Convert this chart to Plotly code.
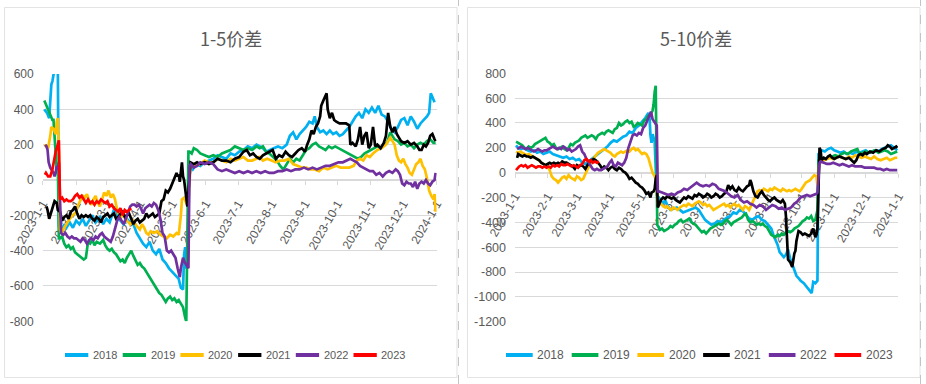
import plotly.graph_objects as go
from datetime import datetime, timedelta

# ---------------- data ----------------
YEARS = ["2018", "2019", "2020", "2021", "2022", "2023"]
COLORS = ["#00B0F0", "#00B050", "#FFC000", "#000000", "#7030A0", "#FF0000"]

MONTH_TICKS = ["2023-01-01", "2023-02-01", "2023-03-01", "2023-04-01", "2023-05-01",
               "2023-06-01", "2023-07-01", "2023-08-01", "2023-09-01", "2023-10-01",
               "2023-11-01", "2023-12-01", "2024-01-01"]
MONTH_LABELS = ["2023-1-1", "2023-2-1", "2023-3-1", "2023-4-1", "2023-5-1", "2023-6-1",
                "2023-7-1", "2023-8-1", "2023-9-1", "2023-10-1", "2023-11-1",
                "2023-12-1", "2024-1-1"]

LEFT_TITLE = "1-5价差"
RIGHT_TITLE = "5-10价差"
L_YTICKS = [600, 400, 200, 0, -200, -400, -600, -800]
R_YTICKS = [800, 600, 400, 200, 0, -200, -400, -600, -800, -1000, -1200]
L_RANGE = [-800, 600]
R_RANGE = [-1200, 800]

# day offsets from 2023-01-01 and spread values
# ---- 1-5 spread ----
L2018_DAYS = [1.5, 4, 6, 8, 9, 11, 13, 14, 15, 18,
              20, 22, 25, 28, 31, 34, 37, 40, 43, 46,
              49, 53, 56, 59, 62, 65, 67, 69, 72, 75,
              78, 81, 84, 87, 90, 93, 96, 99, 102, 105,
              108, 111, 114, 117, 120, 123, 126, 128, 130, 131,
              132, 133, 134, 136, 139, 142, 146, 150, 154, 158,
              162, 166, 170, 174, 178, 182, 186, 190, 194, 198,
              201, 204, 207, 210, 214, 218, 222, 226, 229, 232,
              235, 238, 241, 244, 247, 250, 252, 254, 257, 260,
              263, 266, 269, 272, 275, 278, 281, 284, 287, 290,
              293, 296, 299, 302, 305, 308, 311, 314, 317, 320,
              323, 326, 329, 332, 335, 338, 341, 344, 347, 350,
              353, 356, 358, 359.5, 361, 363]
L2018_VALS = [400, 380, 350, 540, 560, 620, 700, 650, -260, -280,
              -250, -270, -240, -270, -230, -250, -220, -260, -230, -200,
              -240, -210, -250, -220, -240, -180, -150, -200, -230, -250,
              -220, -240, -250, -300, -330, -360, -380, -350, -400, -420,
              -390, -450, -470, -500, -520, -540, -560, -610, -620, -420,
              -380, -500, -480, 80, 60, 90, 80, 100, 110, 120,
              140, 130, 120, 150, 140, 160, 170, 190, 180, 200,
              190, 180, 160, 170, 180, 190, 180, 200, 250, 270,
              230, 260, 280, 300, 330, 320, 360, 300, 270, 280,
              260, 280, 260, 270, 250, 260, 280, 300, 330, 360,
              380, 350, 400, 380, 410, 380, 420, 370, 360, 330,
              290, 270, 300, 340, 350, 310, 360, 330, 290, 320,
              340, 360, 380, 490, 470, 440]

L2019_DAYS = [1.5, 3, 5, 6, 8, 9, 10, 12, 13, 14,
              15, 16, 18, 20, 22, 24, 26, 28, 30, 32,
              34, 36, 38, 40, 42, 44, 46, 48, 50, 53,
              56, 58, 60, 62, 64, 66, 68, 70, 72, 74,
              76, 78, 80, 82, 84, 86, 88, 90, 92, 94,
              96, 98, 100, 102, 104, 106, 108, 110, 112, 114,
              116, 118, 120, 122, 124, 126, 128, 130, 132, 133,
              135, 136, 138, 140, 143, 146, 150, 154, 158, 162,
              166, 170, 174, 178, 182, 186, 190, 194, 198, 201,
              204, 207, 210, 214, 217, 220, 223, 226, 229, 232,
              235, 238, 241, 244, 247, 250, 253, 256, 259, 262,
              265, 268, 271, 274, 277, 280, 283, 286, 289, 292,
              295, 298, 301, 304, 307, 310, 313, 316, 319, 322,
              324, 326, 329, 332, 335, 338, 341, 344, 347, 350,
              353, 356, 359, 362, 364]
L2019_VALS = [450, 430, 400, 380, 360, 340, 340, 100, 60, 100,
              -330, -330, -320, -360, -380, -370, -390, -380, -410, -420,
              -430, -440, -450, -440, -350, -360, -340, -370, -350, -360,
              -340, -370, -390, -400, -390, -410, -420, -440, -460, -450,
              -470, -440, -420, -400, -430, -460, -480, -470, -490, -500,
              -520, -540, -560, -580, -600, -620, -640, -650, -670, -690,
              -670, -660, -680, -670, -690, -680, -700, -720, -780, -800,
              160, 160, 150, 180, 170, 150, 140, 130, 140, 130,
              150, 160, 170, 190, 180, 170, 180, 170, 190, 180,
              190, 160, 150, 130, 110, 80, 60, 90, 120, 100,
              120, 110, 140, 170, 180, 200, 210, 190, 180, 170,
              190, 180, 190, 180, 170, 160, 150, 140, 130, 120,
              130, 150, 160, 170, 180, 190, 180, 200, 210, 270,
              250, 230, 220, 200, 210, 190, 200, 180, 200, 210,
              200, 220, 230, 210, 210]

L2020_DAYS = [1.5, 3, 5, 7, 8, 10, 12, 13, 14, 15,
              16, 17, 19, 21, 23, 25, 28, 31, 33, 35,
              37, 39, 41, 43, 45, 47, 49, 51, 53, 55,
              57, 59, 61, 63, 65, 67, 69, 71, 73, 75,
              78, 81, 84, 87, 90, 92, 94, 96, 98, 100,
              103, 106, 109, 112, 115, 118, 121, 124, 126, 128,
              129, 131, 133, 135, 137, 138, 142, 146, 150, 154,
              158, 162, 166, 170, 174, 178, 182, 186, 190, 194,
              198, 201, 204, 208, 212, 216, 220, 224, 228, 232,
              236, 240, 244, 248, 252, 256, 260, 264, 268, 272,
              276, 280, 284, 288, 291, 294, 297, 300, 303, 306,
              310, 314, 318, 322, 324, 326, 328, 330, 332, 334,
              336, 338, 340, 342, 344, 346, 348, 350, 352, 354,
              356, 358, 360, 362, 363, 364]
L2020_VALS = [200, 190, 180, 250, 300, 290, 260, 330, 350, 150,
              -280, -300, -280, -260, -240, -220, -200, -180, -140, -110,
              -90, -100, -80, -120, -140, -110, -90, -130, -150, -110,
              -70, -90, -60, -100, -80, -110, -170, -200, -210, -190,
              -230, -250, -230, -260, -280, -250, -270, -300, -310, -290,
              -300, -290, -310, -320, -330, -310, -320, -300, -310, -200,
              -110, -100, -130, -120, 80, 90, 80, 90, 110, 100,
              100, 120, 110, 100, 120, 110, 120, 130, 110, 110,
              120, 130, 110, 120, 110, 100, 110, 110, 120, 90,
              80, 70, 70, 60, 60, 50, 70, 60, 70, 80,
              70, 70, 70, 80, 110, 120, 110, 140, 130, 150,
              170, 180, 200, 240, 220, 200, 140, 110, 100, 120,
              90, 70, 40, 30, 60, 90, 100, 120, 80, 60,
              10, -60, -90, -110, -80, -180]

L2021_DAYS = [3.5, 4.5, 6, 7, 9, 10, 11, 13, 14, 16,
              18, 20, 22, 24, 26, 28, 30, 32, 34, 36,
              38, 40, 42, 44, 46, 48, 50, 52, 54, 56,
              58, 60, 62, 64, 66, 68, 70, 72, 74, 76,
              78, 80, 82, 84, 86, 88, 90, 92, 94, 96,
              98, 100, 102, 104, 106, 108, 110, 112, 114, 116,
              118, 120, 122, 124, 125, 126, 127, 128, 129, 130,
              131, 132, 133, 134, 137, 140, 143, 146, 150, 154,
              158, 162, 166, 170, 174, 178, 182, 186, 189, 192,
              195, 198, 201, 204, 207, 210, 213, 216, 219, 222,
              225, 228, 231, 234, 237, 240, 243, 245, 247, 249,
              251, 253, 255, 257, 258, 260, 262, 263, 264, 266,
              268, 270, 272, 275, 278, 281, 284, 285, 287, 290,
              292, 294, 296, 298, 300, 302, 304, 306, 308, 310,
              313, 316, 318, 320, 322, 324, 326, 328, 330, 332,
              335, 338, 341, 344, 347, 349, 351, 353, 355, 357,
              359, 361, 363, 364]
L2021_VALS = [-150, -170, -220, -200, -160, -150, -120, -130, -170, -180,
              -230, -210, -200, -220, -180, -170, -150, -190, -220, -200,
              -210, -200, -210, -200, -220, -230, -210, -220, -240, -210,
              -200, -190, -210, -200, -190, -220, -210, -190, -180, -210,
              -200, -190, -220, -250, -230, -220, -240, -230, -220, -190,
              -210, -200, -190, -210, -200, -190, -120, -110, -60, -70,
              -50, -20, 0, 40, 20, 30, -10, 60, 100, 20,
              0, -50, -100, -150, 100, 90, 100, 90, 100, 90,
              100, 120, 110, 110, 100, 120, 130, 160, 170, 140,
              150, 130, 120, 140, 150, 160, 170, 120, 140, 130,
              160, 140, 130, 150, 170, 180, 160, 200, 230, 280,
              260, 300, 320, 360, 420, 450, 480, 490, 400, 350,
              380, 340, 330, 320, 320, 320, 310, 200, 210, 190,
              230, 300, 200, 250, 270, 180, 200, 300, 190, 200,
              180, 210, 250, 380, 300, 270, 300, 260, 240, 220,
              210, 220, 200, 210, 190, 170, 170, 200, 190, 210,
              250, 260, 230, 220]

L2022_DAYS = [2.5, 3.5, 4.5, 5.5, 7, 8, 10, 11, 12, 13,
              14, 15, 17, 19, 21, 23, 25, 27, 29, 31,
              33, 35, 37, 39, 41, 43, 45, 47, 49, 51,
              53, 55, 57, 59, 61, 63, 65, 67, 69, 71,
              73, 75, 77, 79, 81, 83, 85, 87, 89, 91,
              93, 95, 97, 99, 101, 103, 105, 107, 109, 111,
              113, 115, 117, 119, 121, 123, 125, 127, 128, 130,
              131, 133, 135, 136, 137, 140, 143, 146, 150, 154,
              158, 162, 166, 170, 174, 178, 182, 186, 190, 194,
              198, 202, 206, 210, 214, 218, 222, 226, 230, 234,
              238, 242, 246, 250, 254, 258, 262, 266, 270, 274,
              278, 282, 285, 288, 291, 294, 297, 300, 303, 306,
              309, 312, 315, 318, 321, 324, 327, 329, 331, 333,
              335, 337, 339, 341, 343, 345, 347, 349, 351, 353,
              355, 357, 359, 361, 363, 364]
L2022_VALS = [200, 190, 170, 100, 70, 60, 40, 20, 40, 80,
              60, 100, -300, -310, -300, -320, -330, -320, -330, -330,
              -340, -350, -330, -340, -360, -340, -330, -340, -320, -330,
              -310, -300, -320, -330, -340, -350, -320, -280, -230, -210,
              -230, -250, -220, -180, -150, -140, -140, -150, -140, -160,
              -190, -160, -150, -140, -150, -130, -140, -170, -220, -300,
              -320, -400, -410, -400, -420, -440, -500, -550, -500, -440,
              -460, -480, -500, 80, 90, 70, 80, 100, 90, 100,
              90, 60, 50, 60, 50, 40, 50, 40, 50, 40,
              50, 40, 50, 40, 40, 50, 50, 60, 50, 60,
              60, 70, 60, 70, 60, 70, 80, 80, 90, 100,
              100, 110, 120, 110, 100, 80, 70, 60, 50, 50,
              30, 40, 20, 40, 50, 40, 60, 50, 30, -20,
              -30, -10, -20, -20, -40, -10, -50, -20, -10, -20,
              0, -20, -30, -10, 0, 40]

L2023_DAYS = [2, 3, 5, 7, 9, 10, 11, 12, 14, 15,
              16, 18, 20, 22, 24, 26, 28, 30, 32, 34,
              36, 38, 40, 42, 44, 46, 48, 50, 52, 54,
              56, 58, 60, 62, 64, 66, 68, 70, 72, 74,
              76, 78, 80, 82]
L2023_VALS = [30, 40, 20, 20, 60, 100, 130, 160, 200, 225,
              -110, -100, -120, -110, -120, -120, -110, -90, -80, -100,
              -90, -110, -130, -110, -130, -120, -140, -120, -130, -110,
              -120, -130, -120, -150, -140, -160, -170, -180, -160, -200,
              -170, -180, -170, -160]

# ---- 5-10 spread ----
R2018_DAYS = [1, 3, 6, 9, 12, 15, 18, 21, 24, 27,
              30, 33, 36, 40, 43, 46, 49, 52, 55, 58,
              61, 64, 67, 70, 73, 76, 79, 82, 85, 88,
              91, 94, 97, 100, 103, 106, 109, 112, 115, 118,
              121, 124, 127, 128, 129, 130, 131, 133, 135, 137,
              139, 141, 143, 145, 148, 151, 154, 157, 160, 163,
              166, 169, 172, 175, 178, 181, 184, 187, 190, 193,
              196, 199, 202, 205, 208, 211, 214, 217, 220, 223,
              226, 229, 232, 235, 238, 241, 244, 246, 248, 250,
              252, 254, 256, 258, 260, 262, 264, 266, 268, 270,
              272, 275, 278, 281, 282.5, 284, 286, 288, 289, 290,
              292, 295, 298, 301, 304, 307, 310, 313, 316, 319,
              322, 325, 328, 331, 334, 337, 340, 343, 346, 349,
              352, 355, 358, 361, 364]
R2018_VALS = [220, 200, 190, 200, 180, 170, 180, 160, 170, 150,
              160, 170, 150, 140, 130, 120, 130, 110, 120, 100,
              110, 80, 70, 90, 110, 130, 150, 170, 190, 210,
              240, 260, 250, 270, 290, 300, 330, 320, 360, 380,
              410, 440, 480, 460, 300, 240, 310, 250, -180, -200,
              -230, -250, -220, -260, -300, -290, -280, -300, -320, -310,
              -300, -290, -280, -300, -340, -380, -400, -420, -410, -390,
              -400, -380, -360, -350, -320, -330, -300, -310, -340, -370,
              -380, -360, -350, -380, -390, -420, -450, -500, -540, -580,
              -640, -660, -680, -660, -620, -690, -740, -780, -830, -850,
              -870, -890, -920, -950, -970, -880, -890, -870, 150, 160,
              180, 170, 190, 200, 180, 170, 160, 170, 150, 160,
              150, 170, 160, 170, 180, 160, 170, 180, 170, 190,
              200, 210, 220, 200, 180]

R2019_DAYS = [1, 3, 5, 7, 9, 11, 13, 15, 17, 19,
              21, 23, 25, 27, 29, 31, 33, 35, 37, 39,
              41, 43, 45, 47, 49, 51, 53, 55, 57, 59,
              61, 63, 65, 67, 69, 71, 73, 75, 77, 79,
              81, 83, 85, 87, 89, 91, 93, 95, 97, 99,
              101, 103, 105, 107, 109, 111, 113, 115, 117, 119,
              121, 123, 125, 127, 129, 131, 132, 133, 134, 135.5,
              136, 138, 140, 142, 144, 146, 148, 150, 152, 154,
              156, 158, 160, 162, 164, 166, 168, 170, 172, 174,
              176, 178, 180, 182, 184, 186, 188, 190, 192, 194,
              196, 198, 200, 202, 204, 206, 208, 210, 212, 214,
              216, 218, 220, 222, 224, 226, 228, 230, 232, 234,
              236, 238, 240, 242, 244, 246, 248, 250, 252, 254,
              256, 258, 260, 262, 264, 266, 268, 270, 272, 274,
              276, 278, 280, 282, 284, 286, 288, 289, 290, 293,
              296, 299, 302, 305, 308, 311, 314, 317, 320, 323,
              326, 328, 331, 334, 337, 340, 343, 346, 349, 352,
              355, 358, 361, 364]
R2019_VALS = [250, 240, 230, 220, 200, 190, 210, 200, 210, 230,
              240, 250, 260, 270, 280, 250, 240, 220, 230, 200,
              190, 200, 210, 190, 180, 200, 230, 220, 240, 250,
              260, 280, 290, 300, 280, 290, 300, 290, 270, 300,
              310, 320, 310, 330, 340, 330, 320, 350, 360, 400,
              380, 390, 410, 420, 400, 410, 370, 380, 400, 390,
              380, 420, 430, 460, 470, 500, 550, 650, 700, -420,
              -430, -460, -450, -470, -460, -450, -430, -440, -420, -410,
              -390, -380, -400, -390, -380, -370, -400, -410, -420, -440,
              -460, -480, -470, -490, -470, -450, -440, -430, -420, -410,
              -420, -410, -390, -380, -400, -420, -400, -390, -380, -370,
              -360, -340, -330, -380, -400, -390, -400, -420, -410, -420,
              -410, -430, -440, -470, -500, -510, -520, -500, -510, -490,
              -500, -480, -470, -480, -470, -450, -440, -430, -410, -390,
              -380, -360, -370, -350, -390, -380, -300, 100, 110, 100,
              110, 120, 130, 140, 130, 150, 160, 150, 170, 180,
              190, 150, 160, 170, 160, 170, 180, 160, 170, 180,
              170, 150, 160, 170]

R2020_DAYS = [1, 3, 5, 7, 9, 11, 13, 15, 17, 19,
              21, 23, 25, 27, 29, 31, 33, 35, 37, 39,
              41, 43, 45, 47, 49, 51, 53, 55, 57, 59,
              61, 63, 65, 67, 69, 71, 73, 75, 77, 79,
              81, 83, 85, 87, 89, 91, 93, 95, 97, 99,
              101, 103, 105, 107, 109, 111, 113, 115, 117, 119,
              121, 123, 125, 127, 129, 131, 133, 134, 136, 137,
              139, 141, 143, 145, 147, 149, 151, 153, 155, 157,
              159, 161, 163, 165, 167, 169, 171, 173, 175, 177,
              179, 181, 183, 185, 187, 189, 191, 193, 195, 197,
              199, 201, 203, 205, 207, 209, 211, 213, 215, 217,
              219, 221, 223, 225, 227, 229, 231, 233, 235, 237,
              239, 241, 243, 245, 247, 249, 251, 253, 255, 257,
              259, 261, 263, 265, 267, 269, 271, 273, 275, 277,
              279, 281, 283, 285, 287, 288, 290, 291, 294, 297,
              300, 303, 306, 309, 312, 315, 318, 321, 324, 327,
              330, 333, 336, 339, 342, 345, 348, 351, 354, 357,
              360, 362, 364]
R2020_VALS = [170, 160, 170, 160, 150, 140, 150, 140, 130, 120,
              110, 100, 80, 70, 60, 50, 20, -30, -50, -60,
              -80, -60, -40, -30, -50, -20, -40, -50, -60, -30,
              -40, -60, -50, -10, 30, 60, 90, 120, 140, 160,
              170, 180, 190, 180, 170, 160, 140, 130, 150, 160,
              170, 160, 170, 180, 170, 190, 200, 180, 190, 170,
              150, 160, 150, 120, 50, 0, -30, -50, -250, -260,
              -250, -270, -280, -270, -290, -300, -280, -290, -300, -280,
              -270, -260, -270, -250, -260, -270, -250, -240, -230, -240,
              -260, -250, -270, -260, -280, -300, -290, -280, -270, -260,
              -250, -270, -260, -280, -260, -250, -270, -260, -280, -300,
              -270, -280, -300, -260, -230, -180, -150, -140, -150, -130,
              -140, -150, -130, -140, -120, -130, -140, -150, -130, -140,
              -150, -140, -150, -140, -130, -140, -150, -130, -100, -80,
              -70, -60, -40, -20, -30, -100, 100, 110, 100, 110,
              120, 110, 120, 130, 120, 110, 130, 120, 140, 130,
              120, 130, 120, 110, 130, 110, 100, 110, 120, 100,
              110, 120, 120]

R2021_DAYS = [2, 3, 5, 7, 9, 11, 13, 15, 17, 19,
              21, 23, 25, 27, 29, 31, 33, 35, 37, 39,
              41, 43, 45, 47, 49, 51, 53, 55, 57, 59,
              61, 63, 65, 67, 69, 71, 73, 75, 77, 79,
              81, 83, 85, 87, 89, 91, 93, 95, 97, 99,
              101, 103, 105, 107, 109, 111, 113, 115, 117, 119,
              121, 123, 125, 127, 129, 130, 132, 133, 134, 135,
              136, 137, 139, 141, 143, 145, 147, 149, 151, 153,
              155, 157, 159, 161, 163, 165, 167, 169, 171, 173,
              175, 177, 179, 181, 183, 185, 187, 189, 191, 193,
              195, 197, 199, 201, 203, 205, 207, 209, 211, 213,
              215, 217, 219, 221, 223, 224, 225, 227, 229, 231,
              233, 235, 237, 239, 241, 243, 245, 247, 249, 251,
              253, 255, 257, 258, 259, 260, 262, 263, 264, 266,
              267, 268, 270, 272, 274, 276, 278, 280, 282, 284,
              286, 287, 288, 290, 291, 292, 294, 296, 298, 300,
              302, 304, 306, 309, 312, 315, 318, 321, 323, 325,
              327, 329, 331, 333, 335, 338, 341, 344, 347, 350,
              353, 355, 357, 359, 361, 363, 364]
R2021_VALS = [120, 150, 140, 130, 140, 130, 130, 120, 130, 120,
              110, 100, 80, 70, 60, 70, 80, 70, 80, 70,
              80, 70, 90, 80, 80, 70, 60, 50, 30, 60,
              50, 60, 50, 30, 60, 90, 100, 110, 100, 80,
              60, 30, 50, 40, 20, 40, 50, 30, 20, 40,
              30, 10, 0, -20, -50, -40, -60, -80, -90, -110,
              -120, -140, -170, -160, -200, -160, -150, -130, -50, -20,
              -280, -260, -220, -200, -210, -190, -200, -210, -200, -220,
              -230, -240, -220, -200, -210, -190, -200, -210, -180, -190,
              -170, -180, -200, -190, -170, -180, -200, -190, -170, -180,
              -200, -190, -170, -160, -100, -130, -110, -140, -150, -120,
              -140, -150, -130, -110, -100, -60, -80, -150, -190, -200,
              -170, -150, -180, -200, -220, -230, -210, -200, -220, -230,
              -240, -220, -250, -350, -600, -700, -720, -750, -760, -650,
              -630, -550, -470, -480, -500, -490, -500, -510, -490, -450,
              -520, -500, -450, 200, 180, 100, 120, 110, 130, 140,
              120, 110, 120, 130, 120, 110, 120, 100, 80, 100,
              140, 150, 140, 160, 150, 170, 160, 180, 170, 190,
              200, 220, 210, 190, 200, 210, 200]

R2022_DAYS = [2, 4, 6, 8, 10, 12, 14, 16, 18, 20,
              22, 24, 26, 28, 30, 32, 34, 36, 38, 40,
              42, 44, 46, 48, 50, 52, 54, 56, 58, 60,
              62, 64, 66, 68, 70, 72, 74, 76, 78, 80,
              82, 84, 86, 88, 90, 92, 94, 96, 98, 100,
              102, 104, 106, 108, 110, 112, 114, 116, 118, 120,
              122, 124, 126, 128, 129.5, 131, 133, 134, 135, 136,
              137, 140, 143, 146, 149, 152, 155, 158, 161, 164,
              167, 170, 173, 176, 179, 182, 185, 188, 191, 194,
              197, 200, 203, 206, 209, 212, 215, 218, 221, 224,
              227, 230, 233, 236, 239, 242, 245, 248, 251, 254,
              257, 260, 263, 266, 269, 272, 275, 278, 281, 284,
              287, 288, 290, 291, 294, 297, 300, 303, 306, 309,
              312, 315, 318, 321, 324, 327, 330, 333, 336, 339,
              342, 345, 348, 351, 354, 357, 360, 363, 364]
R2022_VALS = [190, 200, 210, 200, 190, 200, 190, 180, 170, 180,
              190, 180, 170, 180, 180, 190, 200, 210, 200, 190,
              200, 190, 210, 200, 180, 190, 170, 180, 190, 210,
              220, 170, 150, 110, 80, 50, 30, 20, 30, 20,
              20, 30, 40, 50, 80, 100, 60, 50, 80, 70,
              60, 80, 120, 200, 250, 300, 310, 300, 320, 310,
              360, 380, 420, 470, 490, 430, 400, 390, 380, -160,
              -150, -160, -170, -180, -170, -180, -160, -150, -130, -140,
              -120, -100, -80, -100, -110, -100, -110, -90, -100, -130,
              -140, -150, -170, -190, -200, -180, -220, -240, -230, -250,
              -260, -280, -260, -270, -300, -280, -260, -270, -290, -280,
              -300, -290, -280, -250, -230, -200, -190, -180, -190, -180,
              -170, -160, 80, 90, 80, 70, 70, 80, 70, 60,
              70, 60, 50, 60, 50, 50, 50, 40, 40, 40,
              40, 30, 30, 20, 30, 20, 20, 20, 20]

R2023_DAYS = [1, 2, 4, 6, 8, 10, 12, 14, 16, 18,
              20, 22, 24, 26, 28, 30, 32, 34, 36, 38,
              40, 42, 44, 46, 48, 50, 52, 54, 56, 58,
              60, 62, 64, 66, 68, 70, 72, 74, 76, 78,
              80]
R2023_VALS = [20, 30, 50, 60, 50, 60, 40, 50, 60, 50,
              40, 50, 50, 40, 50, 40, 50, 40, 60, 50,
              60, 50, 70, 60, 60, 70, 60, 50, 60, 50,
              40, 60, 70, 100, 110, 90, 100, 80, 90, 80,
              90]

LEFT_SERIES = [(L2018_DAYS, L2018_VALS), (L2019_DAYS, L2019_VALS), (L2020_DAYS, L2020_VALS),
               (L2021_DAYS, L2021_VALS), (L2022_DAYS, L2022_VALS), (L2023_DAYS, L2023_VALS)]
RIGHT_SERIES = [(R2018_DAYS, R2018_VALS), (R2019_DAYS, R2019_VALS), (R2020_DAYS, R2020_VALS),
                (R2021_DAYS, R2021_VALS), (R2022_DAYS, R2022_VALS), (R2023_DAYS, R2023_VALS)]

# ---------------- layout helpers ----------------
BASE = datetime(2023, 1, 1)


def to_dates(days):
    return [BASE + timedelta(days=d) for d in days]


W, H = 926, 384


def fx(px):
    return px / W


def fy(py):
    return 1 - py / H


L_XDOM = [fx(42.7), fx(436.7)]
L_YDOM = [fy(321.3), fy(74.0)]
R_XDOM = [fx(515.0), fx(898.3)]
R_YDOM = [fy(321.7), fy(73.3)]


def zero_pos(dom, rng):
    return dom[0] + (0 - rng[0]) / (rng[1] - rng[0]) * (dom[1] - dom[0])


FONT = "Liberation Sans Narrow, Arial Narrow, Liberation Sans, Arial, sans-serif"
CJK = "Noto Sans CJK SC, sans-serif"
TXT = "#595959"
GRID = "#D9D9D9"

fig = go.Figure()
for i, yr in enumerate(YEARS):
    d, v = LEFT_SERIES[i]
    fig.add_trace(go.Scatter(x=to_dates(d), y=v, mode="lines", name=yr,
                             line=dict(color=COLORS[i], width=2.7),
                             xaxis="x", yaxis="y", showlegend=False, hoverinfo="skip"))
for i, yr in enumerate(YEARS):
    d, v = RIGHT_SERIES[i]
    fig.add_trace(go.Scatter(x=to_dates(d), y=v, mode="lines", name=yr,
                             line=dict(color=COLORS[i], width=2.7),
                             xaxis="x2", yaxis="y2", showlegend=False, hoverinfo="skip"))


def xaxis_cfg(dom, pos, size):
    return dict(domain=dom, anchor="free", position=pos, type="date",
                range=["2023-01-01", "2024-01-01"], tickmode="array",
                tickvals=MONTH_TICKS, ticktext=MONTH_LABELS, tickangle=-60,
                ticks="outside", ticklen=4, tickcolor=GRID, showline=True,
                linecolor=GRID, linewidth=1, showgrid=False, zeroline=False,
                ticklabelstandoff=7,
                layer="below traces", fixedrange=True, automargin=False,
                tickfont=dict(family=FONT, size=size, color=TXT))


def yaxis_cfg(dom, rng, ticks, anchor, size):
    return dict(domain=dom, range=rng, anchor=anchor, tickmode="array", tickvals=ticks,
                ticktext=[str(t) for t in ticks],
                showgrid=True, gridcolor=GRID, gridwidth=1, zeroline=False,
                showline=False, ticks="", ticklabelstandoff=8, fixedrange=True,
                automargin=False, tickfont=dict(family=FONT, size=size, color=TXT))


shapes = []
# panel frames
shapes.append(dict(type="rect", xref="paper", yref="paper", x0=fx(4.5), x1=fx(457), y0=fy(377.5),
                   y1=fy(7.5), line=dict(color="#E3E3E3", width=1), fillcolor="rgba(0,0,0,0)", layer="below"))
shapes.append(dict(type="rect", xref="paper", yref="paper", x0=fx(467.5), x1=fx(920), y0=fy(377.5),
                   y1=fy(7.5), line=dict(color="#E3E3E3", width=1), fillcolor="rgba(0,0,0,0)", layer="below"))
for xpx in (458.5, 920.5):
    shapes.append(dict(type="line", xref="paper", yref="paper", x0=fx(xpx), x1=fx(xpx), y0=0, y1=1,
                       line=dict(color="#C4C4C4", width=1, dash="dash")))

annotations = [
    dict(text=LEFT_TITLE, x=fx(231), y=fy(37.5), xref="paper", yref="paper", showarrow=False,
         xanchor="center", yanchor="middle", font=dict(family=CJK, size=18, color=TXT)),
    dict(text=RIGHT_TITLE, x=fx(696), y=fy(37.5), xref="paper", yref="paper", showarrow=False,
         xanchor="center", yanchor="middle", font=dict(family=CJK, size=18, color=TXT)),
]

# legends (one per panel)
LEG_Y = 355
for (start, step, seg, gap, size) in ((65.0, 57.7, 23.3, 2.5, 11), (506.0, 65.7, 26.7, 2.5, 12)):
    for i, yr in enumerate(YEARS):
        x0 = start + step * i
        shapes.append(dict(type="line", xref="paper", yref="paper", x0=fx(x0), x1=fx(x0 + seg),
                           y0=fy(LEG_Y), y1=fy(LEG_Y), line=dict(color=COLORS[i], width=4)))
        annotations.append(dict(text=yr, x=fx(x0 + seg + gap), y=fy(LEG_Y), xref="paper", yref="paper",
                                showarrow=False, xanchor="left", yanchor="middle",
                                font=dict(family=FONT, size=size, color=TXT)))

fig.update_layout(
    width=W, height=H, autosize=False,
    margin=dict(l=0, r=0, t=0, b=0, autoexpand=False),
    paper_bgcolor="white", plot_bgcolor="white",
    xaxis=xaxis_cfg(L_XDOM, zero_pos(L_YDOM, L_RANGE), 12),
    yaxis=yaxis_cfg(L_YDOM, L_RANGE, L_YTICKS, "x", 12),
    xaxis2=xaxis_cfg(R_XDOM, zero_pos(R_YDOM, R_RANGE), 12),
    yaxis2=yaxis_cfg(R_YDOM, R_RANGE, R_YTICKS, "x2", 12.5),
    shapes=shapes,
    annotations=annotations,
    showlegend=False,
)

fig.write_html("out.html", config={"displayModeBar": False},
               post_script="document.body.style.margin='0';document.body.style.overflow='hidden';")
